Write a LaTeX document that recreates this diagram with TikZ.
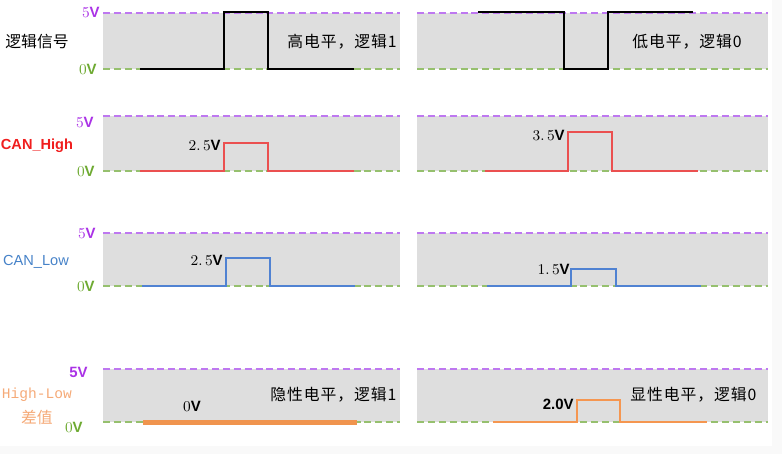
\documentclass[tikz,border=0pt]{standalone}
\usepackage{fontspec}
\setsansfont{Liberation Sans}
\newfontfamily\cjk{Noto Sans CJK SC}
\newfontfamily\cjkwide[LetterSpace=6]{Noto Sans CJK SC}
\newfontfamily\monofont{Liberation Mono}
\definecolor{bandgray}{RGB}{222,222,222}
\definecolor{vpurple}{RGB}{190,120,240}
\definecolor{vgreen}{RGB}{150,192,110}
\definecolor{lpurple}{RGB}{170,50,230}
\definecolor{lgreen}{RGB}{110,170,50}
\definecolor{wred}{RGB}{235,80,80}
\definecolor{wblue}{RGB}{80,130,210}
\definecolor{worange}{RGB}{245,150,80}
\definecolor{nred}{RGB}{240,30,30}
\definecolor{nblue}{RGB}{70,130,200}
\definecolor{norange}{RGB}{245,170,120}
\begin{document}
\begin{tikzpicture}[x=0.02cm,y=-0.02cm,
	band/.style={fill=bandgray},
	fiveline/.style={draw=vpurple,line width=1.1pt,dash pattern=on 4pt off 2.2pt},
	zeroline/.style={draw=vgreen,line width=1.1pt,dash pattern=on 4pt off 2.2pt},
	wave/.style={line width=1.4pt,line join=miter},
	vlab/.style={anchor=east,inner sep=0pt,font=\fontsize{8.5}{10}\selectfont},
	fivelab/.style={vlab,text=lpurple},
	zerolab/.style={vlab,text=lgreen},
	cjktext/.style={inner sep=0pt,font=\cjk\fontsize{9}{11}\selectfont},
	statetext/.style={inner sep=0pt,font=\cjkwide\fontsize{9}{11}\selectfont},
	levlab/.style={anchor=east,inner sep=0pt,font=\fontsize{8.5}{10}\selectfont}]
	\useasboundingbox (0,0) rectangle (782,454);
	% background
	\fill[gray!5] (0,446) rectangle (782,454);
	\fill[gray!5] (772,0) rectangle (782,454);
	% bands and level lines
	\foreach \t/\b in {13/69,116/171,233/286,369/422}{
		\fill[band] (103,\t) rectangle (400,\b);
		\fill[band] (417,\t) rectangle (768,\b);
		\draw[fiveline] (103,\t) -- (400,\t);
		\draw[fiveline] (417,\t) -- (768,\t);
		\draw[zeroline] (103,\b) -- (400,\b);
		\draw[zeroline] (417,\b) -- (768,\b);
	}
	% row names
	\node[cjktext] (sig) at (37,42) {逻辑信号};
	\node[inner sep=0pt,text=nred,font=\sffamily\bfseries\fontsize{8.3}{10}\selectfont] (canh) at (37,146) {CAN\_High};
	\node[inner sep=0pt,text=nblue,font=\sffamily\fontsize{8.3}{10}\selectfont] (canl) at (36,262) {CAN\_Low};
	\node[inner sep=0pt,text=norange,font=\monofont\fontsize{8.3}{10}\selectfont] (diff) at (37,395) {High-Low};
	\node[cjktext,text=norange] (diffb) at (37,417) {差值};
	% 5V and 0V labels
	\node[fivelab] (fa) at (100,13) {5\textsf{\bfseries V}};
	\node[zerolab] (za) at (97,70) {0\textsf{\bfseries V}};
	\node[fivelab] (fb) at (94,123) {5\textsf{\bfseries V}};
	\node[zerolab] (zb) at (95,172) {0\textsf{\bfseries V}};
	\node[fivelab] (fc) at (96,234) {5\textsf{\bfseries V}};
	\node[zerolab] (zc) at (95,287) {0\textsf{\bfseries V}};
	\node[fivelab,font=\sffamily\bfseries\fontsize{8.5}{10}\selectfont] (fd) at (88,372) {5V};
	\node[zerolab] (zd) at (83,428) {0\textsf{\bfseries V}};
	% waveforms
	\draw[wave,black] (140,69) -- (224,69) |- (268,12) |- (354,69);
	\draw[wave,black] (478,12) -- (564,12) |- (608,69) |- (693,12);
	\draw[wave,wred] (140,171) -- (224,171) |- (268,143) |- (354,171);
	\draw[wave,wred] (485,171) -- (568,171) |- (612,132) |- (698,171);
	\draw[wave,wblue] (142,286) -- (226,286) |- (270,258) |- (355,286);
	\draw[wave,wblue] (487,286) -- (571,286) |- (616,269) |- (701,286);
	\draw[worange!90!brown,line width=2.4pt] (143,422.5) -- (357,422.5);
	\draw[wave,worange] (493,422) -- (577,422) |- (620,400) |- (707,422);
	% level values
	\node[levlab] (ha) at (221,146) {2.\,5\textsf{\bfseries V}};
	\node[levlab] (hb) at (565,136) {3.\,5\textsf{\bfseries V}};
	\node[levlab] (la) at (223,261) {2.\,5\textsf{\bfseries V}};
	\node[levlab] (lb) at (570,270) {1.\,5\textsf{\bfseries V}};
	\node[inner sep=0pt,font=\fontsize{8.5}{10}\selectfont] (da) at (192,407) {0\textsf{\bfseries V}};
	\node[levlab,font=\sffamily\bfseries\fontsize{8.5}{10}\selectfont] (db) at (574,404) {2.0V};
	% state texts
	\node[statetext,anchor=east] (ta) at (397,42) {高电平，逻辑1};
	\node[statetext,anchor=west] (tb) at (632,42) {低电平，逻辑0};
	\node[statetext,anchor=west] (tc) at (270,395) {隐性电平，逻辑1};
	\node[statetext,anchor=west] (td) at (630,395) {显性电平，逻辑0};
\end{tikzpicture}
\end{document}
